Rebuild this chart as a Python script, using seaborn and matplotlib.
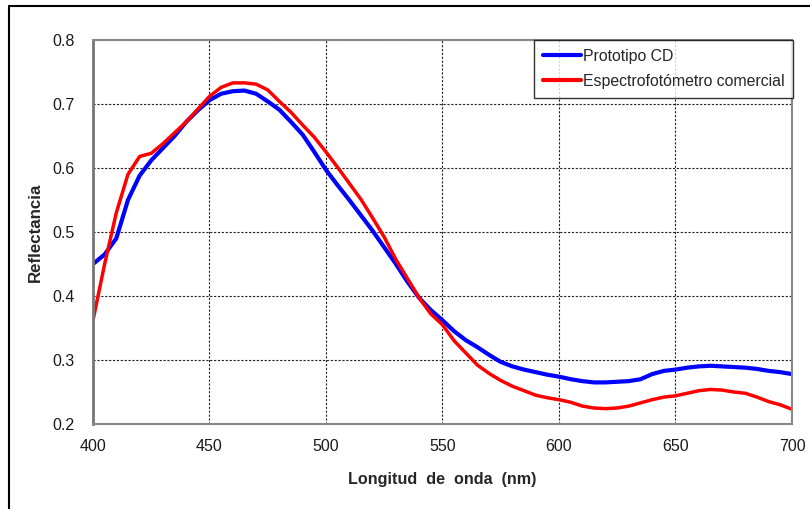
import numpy as np
import pandas as pd
import seaborn as sns
import matplotlib.pyplot as plt
from matplotlib.lines import Line2D

# Wavelength grid (nm) and reflectance values
longitud = list(range(400, 701, 5))

prototipo_cd = [
    0.450, 0.465, 0.490, 0.550, 0.588, 0.612, 0.631, 0.650, 0.672, 0.690,
    0.706, 0.716, 0.720, 0.721, 0.716, 0.704, 0.691, 0.672, 0.652, 0.625,
    0.597, 0.573, 0.550, 0.526, 0.502, 0.476, 0.450, 0.422, 0.397, 0.378,
    0.362, 0.345, 0.331, 0.320, 0.308, 0.297, 0.290, 0.285, 0.281, 0.277,
    0.274, 0.270, 0.267, 0.265, 0.265, 0.266, 0.267, 0.270, 0.278, 0.283,
    0.285, 0.288, 0.290, 0.291, 0.290, 0.289, 0.288, 0.286, 0.283, 0.281,
    0.278,
]

espectrofotometro = [
    0.362, 0.450, 0.530, 0.590, 0.618, 0.623, 0.638, 0.655, 0.672, 0.692,
    0.712, 0.726, 0.733, 0.733, 0.731, 0.722, 0.704, 0.687, 0.667, 0.648,
    0.625, 0.601, 0.576, 0.551, 0.522, 0.492, 0.457, 0.427, 0.397, 0.372,
    0.355, 0.330, 0.311, 0.292, 0.279, 0.268, 0.259, 0.252, 0.245, 0.241,
    0.238, 0.234, 0.228, 0.225, 0.224, 0.225, 0.228, 0.233, 0.238, 0.242,
    0.244, 0.248, 0.252, 0.254, 0.253, 0.250, 0.248, 0.242, 0.235, 0.230,
    0.223,
]

series = ["Prototipo CD", "Espectrofotómetro comercial"]
colores = ["#0000ff", "#ff0000"]

x_ticks = [400, 450, 500, 550, 600, 650, 700]
y_ticks = [0.2, 0.3, 0.4, 0.5, 0.6, 0.7, 0.8]

df = pd.DataFrame({
    "longitud": longitud * 2,
    "reflectancia": prototipo_cd + espectrofotometro,
    "serie": [series[0]] * len(longitud) + [series[1]] * len(longitud),
})

sns.set_style("white")
plt.rcParams['font.family'] = ['Liberation Sans', 'DejaVu Sans']

fig = plt.figure(figsize=(8.1, 5.09), dpi=100)
ax = fig.add_axes([93 / 810, 1 - 424 / 509, 699 / 810, 384 / 509])

sns.lineplot(data=df, x="longitud", y="reflectancia", hue="serie",
             palette=dict(zip(series, colores)), ax=ax, legend=False)
# blue trace looks thicker (noisy measurement)
ax.lines[0].set_linewidth(3.0)
ax.lines[1].set_linewidth(2.5)

ax.set_xlim(400, 700)
ax.set_ylim(0.2, 0.8)
ax.set_xticks(x_ticks)
ax.set_yticks(y_ticks)
ax.set_yticklabels([f"{v:.1f}" for v in y_ticks])

ax.grid(True, color="#222222", linestyle=(0, (2, 1.5)), linewidth=0.8)
ax.set_axisbelow(True)
for s in ax.spines.values():
    s.set_color("#888888")
    s.set_linewidth(1.5)
ax.spines["left"].set_color("#777777")
ax.spines["left"].set_linewidth(2)

ax.tick_params(axis="both", which="major", direction="out", length=5,
               width=1.2, color="#666666", labelsize=11.5, pad=6,
               labelcolor="#1a1a1a")
ax.tick_params(axis="y", pad=8)

ax.set_xlabel("Longitud  de  onda  (nm)", fontsize=11.6, fontweight="bold", labelpad=13)
ax.set_ylabel("Reflectancia", fontsize=12.2, fontweight="bold", labelpad=7)

handles = [Line2D([], [], color=c, linewidth=3) for c in colores]
leg = ax.legend(handles, series, loc="upper right", bbox_to_anchor=(1.002, 1.0),
                borderaxespad=0, frameon=True, fancybox=False, fontsize=11.4,
                handlelength=2.4, handletextpad=0.15, labelspacing=0.65,
                borderpad=0.55)
leg.get_frame().set_edgecolor("#000000")
leg.get_frame().set_linewidth(1.0)

# outer chart frame (top and left edges visible)
fig.add_artist(Line2D([9 / 810, 9 / 810], [0, 1 - 6 / 509], transform=fig.transFigure,
                      color="black", linewidth=1.5))
fig.add_artist(Line2D([9 / 810, 1], [1 - 6 / 509, 1 - 6 / 509], transform=fig.transFigure,
                      color="black", linewidth=1.5))

fig.savefig("out.png", dpi=100)
